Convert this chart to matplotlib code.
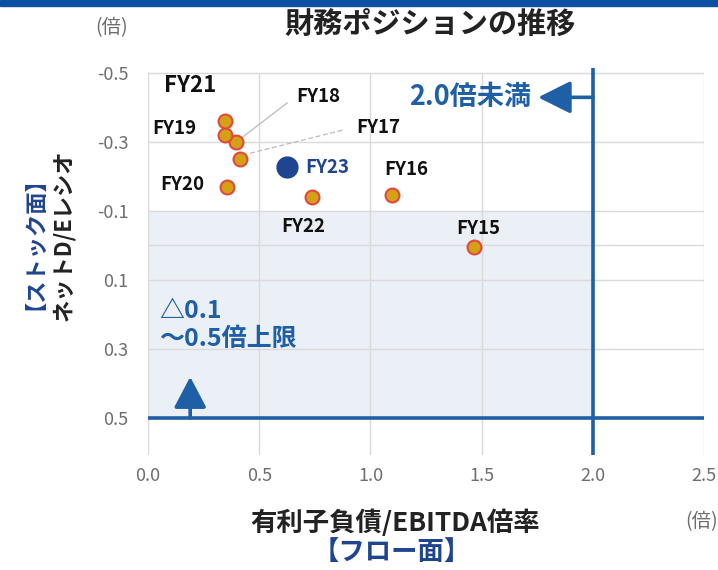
import matplotlib
matplotlib.use('Agg')
from matplotlib import pyplot as plt

plt.rcParams['font.family'] = ['Noto Sans CJK JP', 'DejaVu Sans']

# data
years = ['FY15', 'FY16', 'FY17', 'FY18', 'FY19', 'FY20', 'FY21', 'FY22', 'FY23']
debt_ebitda = [1.465, 1.097, 0.413, 0.395, 0.346, 0.355, 0.346, 0.737, 0.625]
net_de = [0.004, -0.146, -0.251, -0.300, -0.320, -0.170, -0.361, -0.141, -0.228]
x_ticks = [0.0, 0.5, 1.0, 1.5, 2.0, 2.5]
y_ticks = [-0.5, -0.3, -0.1, 0.1, 0.3, 0.5]
y_grid = [-0.5, -0.3, -0.1, 0.0, 0.1, 0.3, 0.5]
ebitda_limit = 2.0
de_limit = 0.5
de_band_top = -0.1

# label placement (data coords)
label_pos = {
    'FY15': (1.483, -0.05), 'FY16': (1.16, -0.22), 'FY17': (1.034, -0.343),
    'FY18': (0.764, -0.43), 'FY19': (0.12, -0.34), 'FY20': (0.153, -0.175),
    'FY21': (0.19, -0.462), 'FY22': (0.697, -0.054), 'FY23': (0.705, -0.226),
}

blue = '#1F5FA6'
navy = '#1F4590'
gold = '#D4A017'
red = '#E04A3C'
gray = '#6E6E6E'

fig = plt.figure(figsize=(7.18, 5.70), dpi=100)
ax = fig.add_axes([0.206, 0.202, 0.775, 0.679])

ax.set_xlim(0, 2.5)
ax.set_ylim(0.607, -0.5145)

ax.fill_between([0, ebitda_limit], de_band_top, de_limit, color='#EBF0F6', zorder=0)
for gx in x_ticks:
    ax.plot([gx, gx], [-0.5, 0.607], color='#DADADA', lw=1, zorder=0.5)
for gy in y_grid:
    ax.plot([0, 2.5], [gy, gy], color='#DADADA', lw=1, zorder=0.5)

for s in ax.spines.values():
    s.set_visible(False)
ax.set_xticks(x_ticks)
ax.set_xticklabels([f'{v:.1f}' for v in x_ticks])
ax.set_yticks(y_ticks)
ax.set_yticklabels([f'{v:.1f}' for v in y_ticks])
ax.tick_params(length=0, colors=gray, labelsize=13, pad=9)
ax.tick_params(axis='y', pad=14)

# limit lines
ax.plot([ebitda_limit, ebitda_limit], [-0.5145, 0.607], color=blue, lw=2.6, zorder=2, solid_capstyle='butt')
ax.plot([0, 2.5], [de_limit, de_limit], color=blue, lw=2.6, zorder=2, solid_capstyle='butt')

ax.annotate('', xy=(1.753, -0.429), xytext=(ebitda_limit, -0.429),
            arrowprops=dict(arrowstyle='-|>,head_length=2.0,head_width=1.0', lw=2.6,
                            color=blue, shrinkA=0, shrinkB=0, mutation_scale=10), zorder=3)
ax.annotate('', xy=(0.19, 0.381), xytext=(0.19, de_limit),
            arrowprops=dict(arrowstyle='-|>,head_length=1.9,head_width=1.0', lw=2.6,
                            color=blue, shrinkA=0, shrinkB=0, mutation_scale=10), zorder=3)

ax.text(1.72, -0.429, '2.0倍未満', color=blue, fontsize=19.5, fontweight='bold',
        ha='right', va='center')
ax.text(0.05, 0.23, '△0.1\n～0.5倍上限', color=blue, fontsize=18, fontweight='bold',
        ha='left', va='center', linespacing=1.2)

# leader lines
ax.plot([0.418, 0.626], [-0.310, -0.413], color='#BBBBBB', lw=0.9, zorder=2)
ax.plot([0.459, 0.875], [-0.267, -0.334], color='#BBBBBB', lw=0.9, ls=(0, (4, 2)), zorder=2)

for yr, x, y in zip(years, debt_ebitda, net_de):
    lx, ly = label_pos[yr]
    if yr == 'FY23':
        ax.plot(x, y, 'o', ms=15, color=navy, mec=navy, zorder=4)
        ax.text(lx, ly, yr, color=navy, fontsize=13.5, fontweight='bold', ha='left', va='center')
    else:
        ax.plot(x, y, 'o', ms=10, color=gold, mec=red, mew=1.5, zorder=4)
        fs = 16 if yr == 'FY21' else 13.5
        ax.text(lx, ly, yr, color='#111111', fontsize=fs, fontweight='bold', ha='center', va='center')

# titles and axis labels
fig.patches.append(plt.Rectangle((0, 0.99), 1, 0.01, transform=fig.transFigure,
                                 color='#0B4EA2', zorder=10))
fig.text(0.599, 0.958, '財務ポジションの推移', fontsize=21, fontweight='bold', color='#222222',
         ha='center', va='center')
fig.text(0.156, 0.951, '(倍)', fontsize=14, color=gray, ha='center', va='center')
fig.text(0.955, 0.084, '(倍)', fontsize=14, color=gray, ha='left', va='center')
fig.text(0.55, 0.082, '有利子負債/EBITDA倍率', fontsize=19, fontweight='bold', color='#222222',
         ha='center', va='center')
fig.text(0.545, 0.030, '【フロー面】', fontsize=19, fontweight='bold', color=navy,
         ha='center', va='center')
fig.text(0.089, 0.588, 'ネットD/Eレシオ', fontsize=16, fontweight='bold', color='#222222',
         ha='center', va='center', rotation=90)
fig.text(0.034, 0.593, '【ストック面】', fontsize=16, fontweight='bold', color=navy,
         ha='center', va='center', rotation=90)

fig.savefig('out.png', dpi=100)
